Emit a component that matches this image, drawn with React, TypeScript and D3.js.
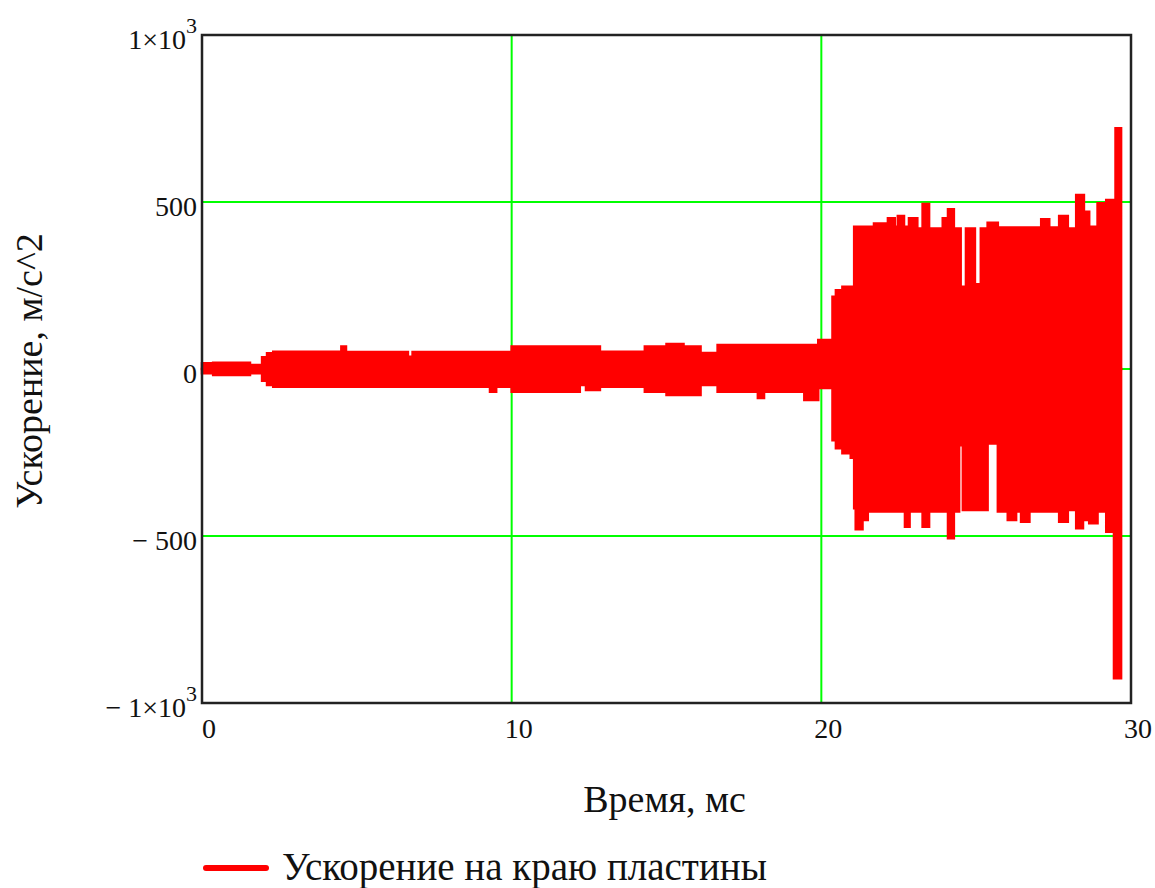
import * as d3 from 'd3'

// envelope of the acceleration trace (step-wise, ms / m/s^2)
const upperTime = [0, 0.36, 1.55, 1.94, 2.1, 2.3, 4.5, 4.65, 6.65, 6.8, 10.0, 12.85, 14.3, 15.0, 15.55, 16.1, 16.65, 19.9,
  20.36, 20.47, 20.68, 21.06, 21.7, 22.15, 22.37, 22.47, 22.67, 22.83, 23.1, 23.27, 23.48, 23.92,
  24.09, 24.28, 24.5, 24.67, 24.96, 25.15, 25.37, 25.7, 27.1, 27.36, 27.68, 27.96, 28.23, 28.48, 28.65, 28.92,
  29.2, 29.42, 29.5, 29.68]
const upperValue = [17, 19, 12, 35, 47, 52, 67, 51, 37, 51, 67, 52, 67, 75, 67, 48, 72, 87,
  216, 236, 246, 426, 436, 451, 426, 458, 426, 451, 421, 494, 421, 451,
  478, 421, 246, 421, 254, 421, 438, 424, 448, 424, 458, 421, 521, 471, 426, 496,
  506, 426, 721, 721]

const lowerTime = [0, 0.36, 1.55, 1.94, 2.1, 2.3, 9.3, 9.5, 10.0, 12.2, 12.4, 12.85, 14.3, 15.0, 16.1, 16.65,
  17.95, 18.15, 19.45, 19.9, 20.36, 20.47, 20.68, 20.95, 21.06, 21.11, 21.33, 21.5, 22.7, 22.85, 23.27, 23.48,
  24.09, 24.28, 24.45, 24.57, 25.37, 25.7, 26.02, 26.29, 26.45, 26.72, 27.68, 27.96, 28.23, 28.45, 28.65, 28.92,
  29.2, 29.45, 29.68]
const lowerValue = [-13, -18, -13, -35, -48, -53, -68, -53, -68, -48, -63, -53, -68, -78, -48, -68,
  -87, -68, -93, -57, -213, -237, -252, -266, -417, -480, -452, -427, -472, -427, -472, -427,
  -507, -427, -228, -422, -223, -427, -452, -427, -457, -427, -457, -422, -477, -452, -462, -427,
  -487, -926, -926]

const xTicks = [0, 10, 20, 30]
const xGrid = [10, 20]
const yTicks = [-1000, -500, 0, 500, 1000]
const yTickText = ['\u2212 1\u00d710', '\u2212 500', '0', '500', '1\u00d710']
const yTickExp = ['3', '', '', '', '3']
const yGrid = [-500, 0, 500]

const seriesName = 'Ускорение на краю пластины'
const xTitle = 'Время, мс'
const yTitle = 'Ускорение, м/с^2'

const W = 1155
const H = 888
const left = 202, right = 1131, top = 35, bottom = 703
const RED = '#ff0000'
const GREEN = '#00ff00'
const FONT = '"Liberation Serif", "Times New Roman", serif'

export default function App() {
  const x = d3.scaleLinear().domain([0, 30]).range([left, right])
  const y = d3.scaleLinear().domain([-1000, 1000]).range([bottom, top])

  const upperArea = d3.area<number>()
    .x((_, i) => x(upperTime[i]))
    .y0(y(0))
    .y1(d => y(d))
    .curve(d3.curveStepAfter)

  const lowerArea = d3.area<number>()
    .x((_, i) => x(lowerTime[i]))
    .y0(y(0))
    .y1(d => y(d))
    .curve(d3.curveStepAfter)

  return (
    <svg width={W} height={H} style={{ position: 'absolute', left: 0, top: 0, background: '#fff' }}
      fontFamily={FONT}>
      {/* grid */}
      {xGrid.map(t => (
        <line key={'gx' + t} x1={x(t)} x2={x(t)} y1={top} y2={bottom} stroke={GREEN} strokeWidth={2} />
      ))}
      {yGrid.map(v => (
        <line key={'gy' + v} x1={left} x2={right} y1={y(v)} y2={y(v)} stroke={GREEN} strokeWidth={2} />
      ))}

      {/* trace */}
      <path d={upperArea(upperValue) ?? ''} fill={RED} stroke={RED} strokeWidth={2.5} />
      <path d={lowerArea(lowerValue) ?? ''} fill={RED} stroke={RED} strokeWidth={2.5} />

      {/* frame */}
      <rect x={left} y={top} width={right - left} height={bottom - top} fill="none" stroke="#222" strokeWidth={2.5} />

      {/* y tick labels */}
      {yTicks.map((v, i) => (
        <text key={'yt' + v} x={197} y={y(v) + 14} textAnchor="end" fontSize={28} fill="#111">
          {yTickText[i]}
          {yTickExp[i] && <tspan fontSize={22} dy={-16}>{yTickExp[i]}</tspan>}
        </text>
      ))}

      {/* x tick labels */}
      {xTicks.map(t => (
        <text key={'xt' + t} x={x(t) + 7} y={bottom + 35} textAnchor="middle" fontSize={28} fill="#111">
          {t}
        </text>
      ))}

      {/* axis titles */}
      <text x={(left + right) / 2 - 2} y={812} textAnchor="middle" fontSize={38} fill="#111">{xTitle}</text>
      <text transform={`translate(42, ${(top + bottom) / 2 + 2}) rotate(-90)`} textAnchor="middle" fontSize={38} fill="#111">
        {yTitle}
      </text>

      {/* legend */}
      <line x1={206} x2={266} y1={868} y2={868} stroke={RED} strokeWidth={6} strokeLinecap="round" />
      <text x={282} y={880} fontSize={39} fill="#111">{seriesName}</text>
    </svg>
  )
}
